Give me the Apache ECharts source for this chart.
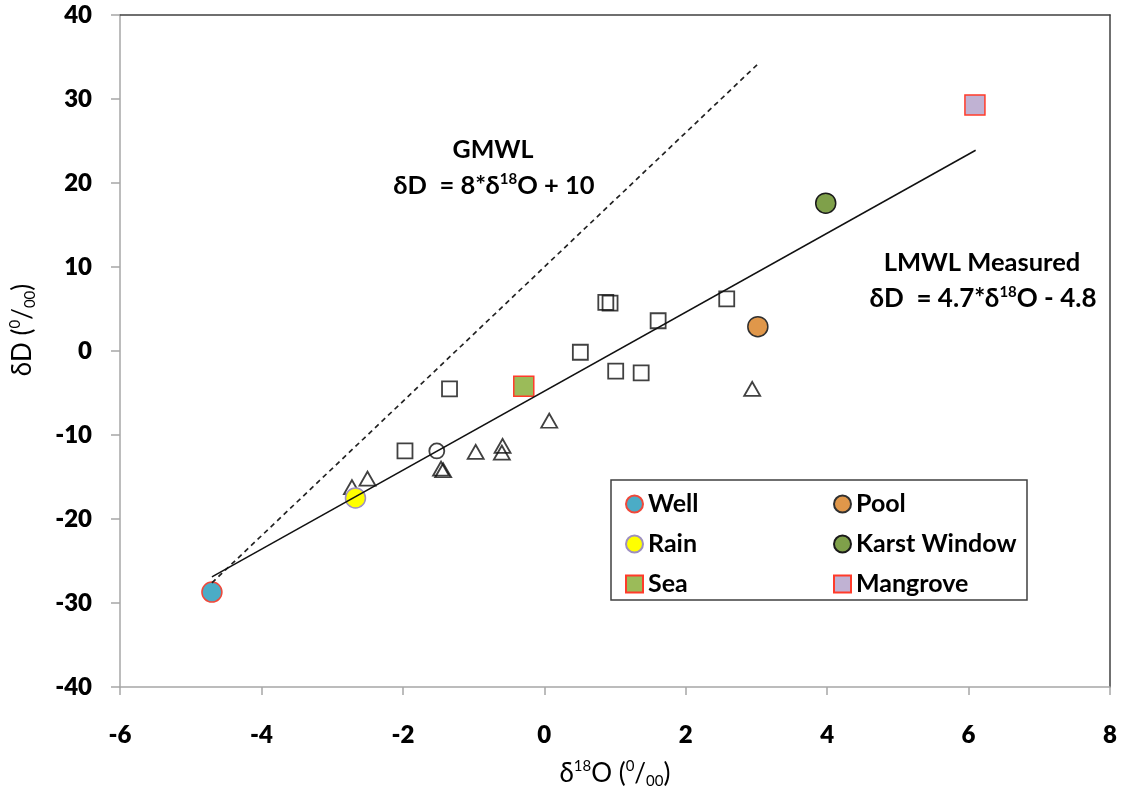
<!DOCTYPE html>
<html>
<head>
<meta charset="utf-8">
<script src="https://cdn.jsdelivr.net/npm/echarts@6/dist/echarts.min.js"></script>
<style>
html,body{margin:0;padding:0;background:#fff;}
#chart{width:1124px;height:798px;}
</style>
</head>
<body>
<div id="chart"></div>
<script>
// ---- data ----
const xTicks = [-6, -4, -2, 0, 2, 4, 6, 8];
const yTicks = [-40, -30, -20, -10, 0, 10, 20, 30, 40];
const wellData = [[-4.70, -28.7]];
const rainData = [[-2.67, -17.5]];
const seaData = [[-0.29, -4.2]];
const poolData = [[3.02, 2.9]];
const karstData = [[3.98, 17.6]];
const mangroveData = [[6.09, 29.3]];
const openSquares = [[-1.97, -11.9], [-1.34, -4.5], [0.51, -0.15], [0.87, 5.8], [0.93, 5.7], [1.01, -2.4], [1.37, -2.6], [1.61, 3.6], [2.58, 6.2]];
const openTriangles = [[-2.72, -16.2], [-2.50, -15.2], [-1.46, -14.0], [-1.43, -14.2], [-0.97, -12.0], [-0.59, -11.3], [-0.60, -12.1], [0.07, -8.3], [2.94, -4.5]];
const openCircles = [[-1.52, -11.9]];
const gmwlLine = [[-4.7, -27.6], [3.05, 34.4]];
const lmwlLine = [[-4.7, -26.9], [6.1, 23.9]];
const legendCol1 = ['Well', 'Rain', 'Sea'];
const legendCol2 = ['Pool', 'Karst Window', 'Mangrove'];

const FONT = "Lato, 'DejaVu Sans', sans-serif";
const chart = echarts.init(document.getElementById('chart'));

const supRich = {
  sup: { fontSize: 15, verticalAlign: 'top', lineHeight: 30, fontFamily: FONT, color: '#000' },
  sub: { fontSize: 15, verticalAlign: 'bottom', lineHeight: 30, fontFamily: FONT, color: '#000' }
};
const annRich = { s: { fontSize: 15, fontWeight: 'bold', fontFamily: FONT, verticalAlign: 'top', lineHeight: 28, fill: '#000' } };

function bigMarker(name, data, symbol, fill, border) {
  return {
    name: name, type: 'scatter', data: data, symbol: symbol, symbolSize: 20, z: 3,
    itemStyle: { color: fill, borderColor: border, borderWidth: 1.5, opacity: 1 }
  };
}
function openMarker(name, data, symbol, size) {
  return {
    name: name, type: 'scatter', data: data, symbol: symbol, symbolSize: size, z: 2,
    itemStyle: { color: 'rgba(255,255,255,0)', borderColor: '#111', borderWidth: 1.8 }
  };
}

const option = {
  backgroundColor: '#fff',
  animation: false,
  grid: { left: 120, right: 14, top: 15, bottom: 111, containLabel: false },
  xAxis: [{
    type: 'value', min: xTicks[0], max: xTicks[xTicks.length - 1], interval: 2,
    axisLine: { show: true, onZero: false, lineStyle: { color: '#a6a6a6', width: 1.5 } },
    axisTick: { show: true, inside: false, length: 8, lineStyle: { color: '#a6a6a6', width: 1.5 } },
    axisLabel: { margin: 36, color: '#000', fontSize: 24, fontWeight: 800, fontFamily: FONT },
    splitLine: { show: false },
    name: 'δ{sup|18}O ({sup|0}/{sub|00})', nameLocation: 'middle', nameGap: 72,
    nameTextStyle: { color: '#000', fontSize: 26, fontFamily: FONT, lineHeight: 30, rich: supRich }
  }, {
    type: 'value', position: 'top', min: xTicks[0], max: xTicks[xTicks.length - 1],
    axisLine: { show: true, onZero: false, lineStyle: { color: '#404040', width: 1.5 } },
    axisTick: { show: false }, axisLabel: { show: false }, splitLine: { show: false }
  }],
  yAxis: [{
    type: 'value', min: yTicks[0], max: yTicks[yTicks.length - 1], interval: 10,
    axisLine: { show: true, onZero: false, lineStyle: { color: '#a6a6a6', width: 1.5 } },
    axisTick: { show: true, inside: false, length: 9, lineStyle: { color: '#a6a6a6', width: 1.5 } },
    axisLabel: { margin: 28, color: '#000', fontSize: 24, fontWeight: 800, fontFamily: FONT },
    splitLine: { show: false },
    name: 'δD ({sup|0}/{sub|00})', nameLocation: 'middle', nameGap: 82, nameRotate: 90,
    nameTextStyle: { color: '#000', fontSize: 26, fontFamily: FONT, lineHeight: 30, rich: supRich, padding: [0, 0, 0, 42] }
  }, {
    type: 'value', position: 'right', min: yTicks[0], max: yTicks[yTicks.length - 1],
    axisLine: { show: true, onZero: false, lineStyle: { color: '#404040', width: 1.5 } },
    axisTick: { show: false }, axisLabel: { show: false }, splitLine: { show: false }
  }],
  legend: [{
    data: legendCol1, orient: 'vertical', left: 620, top: 486, itemWidth: 17, itemHeight: 17, itemGap: 14,
    textStyle: { fontSize: 25, fontWeight: 'bold', fontFamily: FONT, color: '#000', lineHeight: 26 },
    selectedMode: false
  }, {
    data: legendCol2, orient: 'vertical', left: 828, top: 486, itemWidth: 17, itemHeight: 17, itemGap: 14,
    textStyle: { fontSize: 25, fontWeight: 'bold', fontFamily: FONT, color: '#000', lineHeight: 26 },
    selectedMode: false
  }],
  graphic: [
    { type: 'rect', shape: { x: 611, y: 480, width: 416, height: 120 }, style: { fill: '#fff', stroke: '#404040', lineWidth: 1.5 }, z: 1 },
    { type: 'text', x: 493, y: 150, z: 10, style: { text: 'GMWL', textAlign: 'center', textVerticalAlign: 'middle', fontSize: 25, fontWeight: 'bold', fontFamily: FONT, fill: '#000' } },
    { type: 'text', x: 494, y: 186, z: 10, style: { text: 'δD  = 8*δ{s|18}O + 10', textAlign: 'center', textVerticalAlign: 'middle', fontSize: 25.5, fontWeight: 'bold', fontFamily: FONT, fill: '#000', rich: annRich } },
    { type: 'text', x: 982, y: 263, z: 10, style: { text: 'LMWL Measured', textAlign: 'center', textVerticalAlign: 'middle', fontSize: 25.5, fontWeight: 'bold', fontFamily: FONT, fill: '#000' } },
    { type: 'text', x: 983, y: 299, z: 10, style: { text: 'δD  = 4.7*δ{s|18}O - 4.8', textAlign: 'center', textVerticalAlign: 'middle', fontSize: 26, fontWeight: 'bold', fontFamily: FONT, fill: '#000', rich: annRich } }
  ],
  series: [
    bigMarker('Well', wellData, 'circle', '#4bacc6', '#f0483a'),
    bigMarker('Rain', rainData, 'circle', '#ffff00', '#9d8fc0'),
    bigMarker('Sea', seaData, 'rect', '#9bbb59', '#ff3b2a'),
    bigMarker('Pool', poolData, 'circle', '#e0974a', '#303030'),
    bigMarker('Karst Window', karstData, 'circle', '#7fa04a', '#1a1a1a'),
    bigMarker('Mangrove', mangroveData, 'rect', '#c0b2d3', '#ff3b2a'),
    openMarker('open squares', openSquares, 'rect', 15),
    openMarker('open triangles', openTriangles, 'triangle', [16, 14]),
    openMarker('open circles', openCircles, 'circle', 15),
    { name: 'GMWL', type: 'line', data: gmwlLine, showSymbol: false, z: 4, silent: true,
      lineStyle: { color: '#222', width: 1.7, type: [5, 4] } },
    { name: 'LMWL', type: 'line', data: lmwlLine, showSymbol: false, z: 4, silent: true,
      lineStyle: { color: '#111', width: 1.5, type: 'solid' } }
  ]
};
chart.setOption(option);
</script>
</body>
</html>
